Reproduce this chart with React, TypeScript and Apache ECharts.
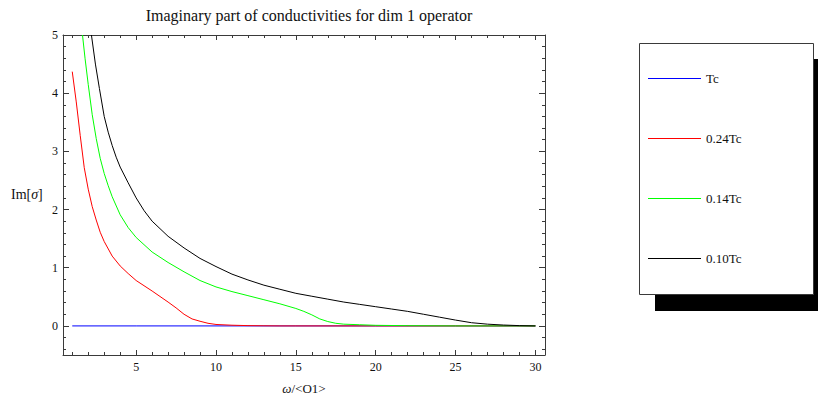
import React, { useEffect, useRef } from 'react';
import * as echarts from 'echarts';

const titleText = 'Imaginary part of conductivities for dim 1 operator';
const seriesNames = ['Tc', '0.24Tc', '0.14Tc', '0.10Tc'];
const seriesColors = ['#0000ff', '#ff0000', '#00ff00', '#000000'];

const xMin = 0.42;
const xMax = 30.6;
const yMin = -0.5;
const yMax = 5;

const tcX = [1, 5, 10, 15, 20, 25, 30];
const tcY = [0, 0, 0, 0, 0, 0, 0];

const t024X = [1, 1.25, 1.5, 1.75, 2, 2.25, 2.5, 2.75, 3, 3.5, 4, 4.5, 5, 6, 7, 7.5, 8, 8.5, 9, 9.5, 10, 11, 12, 13, 14, 20, 25, 30];
const t024Y = [4.37, 3.85, 3.27, 2.72, 2.35, 2.05, 1.82, 1.61, 1.45, 1.2, 1.03, 0.9, 0.78, 0.6, 0.41, 0.31, 0.2, 0.12, 0.08, 0.045, 0.025, 0.012, 0.005, 0.002, 0, 0, 0, 0];

const t014X = [1.64, 1.8, 2, 2.25, 2.5, 2.75, 3, 3.25, 3.5, 4, 4.5, 5, 6, 7, 8, 9, 10, 11, 12, 13, 14, 15, 15.5, 16, 16.5, 17, 17.5, 18, 19, 20, 22, 25, 30];
const t014Y = [5.0, 4.6, 4.15, 3.63, 3.22, 2.88, 2.62, 2.41, 2.22, 1.91, 1.69, 1.52, 1.27, 1.09, 0.93, 0.78, 0.67, 0.59, 0.52, 0.45, 0.38, 0.3, 0.25, 0.19, 0.12, 0.075, 0.045, 0.03, 0.02, 0.01, 0.004, 0, 0];

const t010X = [2.2, 2.45, 2.7, 3, 3.25, 3.5, 3.75, 4, 4.5, 5, 5.5, 6, 7, 8, 9, 10, 11, 12, 13, 14, 15, 16, 17, 18, 19, 20, 21, 22, 23, 24, 25, 26, 27, 28, 29, 30];
const t010Y = [5.0, 4.5, 4.08, 3.6, 3.33, 3.1, 2.9, 2.73, 2.46, 2.2, 1.98, 1.8, 1.54, 1.34, 1.16, 1.02, 0.89, 0.79, 0.7, 0.63, 0.56, 0.51, 0.46, 0.41, 0.37, 0.33, 0.29, 0.25, 0.2, 0.15, 0.1, 0.055, 0.03, 0.015, 0.005, 0];

const seriesX = [tcX, t024X, t014X, t010X];
const seriesY = [tcY, t024Y, t014Y, t010Y];

const FONT = '"Liberation Serif", "DejaVu Serif", serif';
const FRAME = '#3a3a3a';
const TICK = '#3a3a3a';

export default function App() {
  const ref = useRef<HTMLDivElement>(null);
  useEffect(() => {
    if (!ref.current) return;
    const chart = echarts.init(ref.current, undefined, { renderer: 'svg' });
    const isMult = (v: number, m: number) => Math.abs(v / m - Math.round(v / m)) < 1e-9;
    const baseTick = { show: true, inside: true, lineStyle: { color: TICK, width: 1 } };
    const mkX = (pos: 'bottom' | 'top', labels: boolean) => ({
      type: 'value',
      position: pos,
      min: xMin,
      max: xMax,
      splitNumber: 6,
      minInterval: 5,
      maxInterval: 5,
      axisLine: { show: true, onZero: false, lineStyle: { color: FRAME, width: 1 } },
      axisTick: { ...baseTick, length: 5 },
      minorTick: { show: true, splitNumber: 5, length: 3, lineStyle: { color: TICK, width: 1 } },
      splitLine: { show: false },
      axisLabel: {
        show: labels,
        margin: 6,
        color: '#111',
        fontFamily: FONT,
        fontSize: 12,
        formatter: (v: number) => (isMult(v, 5) ? String(Math.round(v)) : ''),
      },
      ...(labels
        ? {
            name: '{i|ω}/<O1>',
            nameLocation: 'middle',
            nameGap: 27,
            nameTextStyle: {
              color: '#111',
              fontFamily: FONT,
              fontSize: 13,
              rich: { i: { fontStyle: 'italic', fontFamily: FONT, fontSize: 13, color: '#111' } },
            },
          }
        : {}),
    });
    const mkY = (pos: 'left' | 'right', labels: boolean) => ({
      type: 'value',
      position: pos,
      min: yMin,
      max: yMax,
      splitNumber: 5,
      minInterval: 1,
      maxInterval: 1,
      axisLine: { show: true, onZero: false, lineStyle: { color: FRAME, width: 1 } },
      axisTick: { ...baseTick, length: 6 },
      minorTick: { show: true, splitNumber: 5, length: 3, lineStyle: { color: TICK, width: 1 } },
      splitLine: { show: false },
      axisLabel: {
        show: labels,
        margin: 5,
        color: '#111',
        fontFamily: FONT,
        fontSize: 12,
        formatter: (v: number) => (isMult(v, 1) ? String(Math.round(v)) : ''),
      },
    });

    chart.setOption({
      animation: false,
      backgroundColor: '#ffffff',
      title: {
        text: titleText,
        left: 304,
        top: 2,
        textAlign: 'center',
        textStyle: { fontFamily: FONT, fontSize: 16, fontWeight: 'normal', color: '#111' },
      },
      grid: { left: 63, right: 273, top: 35, bottom: 46, containLabel: false },
      xAxis: [mkX('bottom', true), mkX('top', false)],
      yAxis: [mkY('left', true), mkY('right', false)],
      legend: {
        data: seriesNames,
        orient: 'vertical',
        left: 648,
        top: 72,
        itemWidth: 53,
        itemHeight: 13,
        itemGap: 47,
        padding: 0,
        selectedMode: false,
        icon: 'path://M0 0H53V1H0Z',
        textStyle: { fontFamily: FONT, fontSize: 13, color: '#111' },
        z: 10,
      },
      graphic: [
        { type: 'rect', z: 5, shape: { x: 655, y: 59, width: 163, height: 252 }, style: { fill: '#000' } },
        { type: 'rect', z: 6, shape: { x: 639.5, y: 43.5, width: 174, height: 251 }, style: { fill: '#fff', stroke: FRAME, lineWidth: 1 } },
        {
          type: 'text',
          z: 6,
          left: 11,
          top: 187,
          style: {
            text: '{n|Im[}{s|σ}{n|]}',
            rich: {
              n: { fontFamily: FONT, fontSize: 14, fill: '#111' },
              s: { fontFamily: FONT, fontSize: 14, fill: '#111', fontStyle: 'italic' },
            },
          },
        },
      ],
      series: seriesNames.map((name, i) => ({
        name,
        type: 'line',
        xAxisIndex: 0,
        yAxisIndex: 0,
        showSymbol: false,
        symbol: 'none',
        smooth: false,
        clip: true,
        color: seriesColors[i],
        itemStyle: { color: seriesColors[i] },
        lineStyle: { color: seriesColors[i], width: 1 },
        data: seriesX[i].map((x, j) => [x, seriesY[i][j]]),
      })),
    });
    return () => chart.dispose();
  }, []);
  return <div ref={ref} style={{ position: 'fixed', left: 0, top: 0, width: 818, height: 401 }} />;
}
